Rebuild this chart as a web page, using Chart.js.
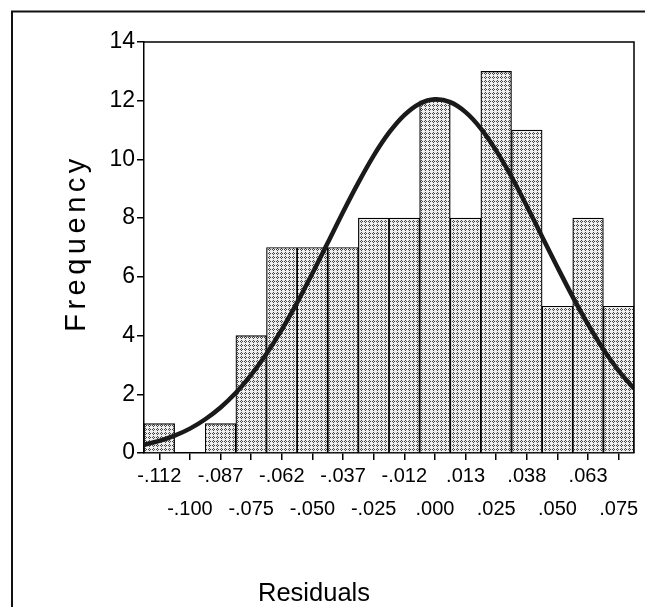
<!DOCTYPE html>
<html lang="en">
<head>
    <meta charset="UTF-8">
    <title>Residuals Histogram</title>
    <script src="https://cdn.jsdelivr.net/npm/chart.js"></script>
    <style>
        html, body { margin: 0; padding: 0; background: #fff; }
    </style>
</head>
<body>
    <canvas id="histChart" width="645" height="607"></canvas>

    <script>
        // Bin labels as printed under the axis
        const binLabels = ['-.112', '-.100', '-.087', '-.075', '-.062', '-.050', '-.037', '-.025',
                           '-.012', '.000', '.013', '.025', '.038', '.050', '.063', '.075'];
        // Counts per bin
        const frequencies = [1, 0, 1, 4, 7, 7, 7, 8, 8, 12, 8, 13, 11, 5, 8, 5];

        // Normal curve (x in bin units, 0 = left edge of first bin)
        const curveX = [0, 0.5, 1, 1.5, 2, 2.5, 3, 3.5, 4, 4.5, 5, 5.5, 6, 6.5, 7, 7.5, 8,
                        8.5, 9, 9.5, 10, 10.5, 11, 11.5, 12, 12.5, 13, 13.5, 14, 14.5, 15, 15.5, 16];
        const curveY = [0.28, 0.41, 0.59, 0.83, 1.15, 1.55, 2.05, 2.66, 3.38, 4.20, 5.12, 6.12, 7.16,
                        8.21, 9.21, 10.13, 10.91, 11.51, 11.90, 12.05, 11.95, 11.61, 11.05, 10.30, 9.41,
                        8.41, 7.37, 6.33, 5.32, 4.38, 3.53, 2.80, 2.20];

        const yMin = 0, yMax = 14, yStep = 2;

        // small dotted fill like the original bars
        function hatchPattern() {
            const c = document.createElement('canvas');
            c.width = 4; c.height = 4;
            const g = c.getContext('2d');
            g.fillStyle = '#eeeeee';
            g.fillRect(0, 0, 4, 4);
            g.fillStyle = '#444';
            [[1, 0], [0, 1], [2, 1], [1, 2]].forEach(p => g.fillRect(p[0], p[1], 1, 1));
            return g.createPattern(c, 'repeat');
        }

        const fontFamily = '"Liberation Sans", Arial, sans-serif';

        // frame, plot box and the axis titles
        const decorations = {
            id: 'decorations',
            afterDraw(chart) {
                const { ctx, chartArea: a } = chart;
                ctx.save();
                ctx.strokeStyle = '#000';
                ctx.lineWidth = 1.5;
                ctx.beginPath();
                ctx.moveTo(a.left, a.top);
                ctx.lineTo(a.right, a.top);
                ctx.lineTo(a.right, a.bottom);
                ctx.stroke();

                ctx.lineWidth = 2;
                ctx.strokeStyle = '#111';
                ctx.beginPath();
                ctx.moveTo(12, 607);
                ctx.lineTo(12, 11.5);
                ctx.lineTo(645, 11.5);
                ctx.stroke();

                ctx.fillStyle = '#000';
                ctx.textAlign = 'center';
                ctx.textBaseline = 'alphabetic';
                ctx.font = '25.5px ' + fontFamily;
                ctx.fillText('Residuals', 314, 601);

                ctx.translate(85, 245);
                ctx.rotate(-Math.PI / 2);
                ctx.font = '29px ' + fontFamily;
                ctx.letterSpacing = '4.5px';
                ctx.fillText('Frequency', 2, 0);
                ctx.restore();
            }
        };

        const ctx = document.getElementById('histChart').getContext('2d');
        new Chart(ctx, {
            type: 'bar',
            data: {
                labels: binLabels,
                datasets: [
                    {
                        type: 'line',
                        data: curveX.map((x, i) => ({ x: x, y: curveY[i] })),
                        xAxisID: 'x2',
                        yAxisID: 'y',
                        borderColor: '#1a1a1a',
                        borderWidth: 4.5,
                        pointRadius: 0,
                        tension: 0.3,
                        fill: false,
                        order: 0
                    },
                    {
                        type: 'bar',
                        data: frequencies,
                        xAxisID: 'x',
                        yAxisID: 'y',
                        backgroundColor: hatchPattern(),
                        borderColor: '#000',
                        borderWidth: 1.2,
                        grouped: false,
                        categoryPercentage: 1,
                        barPercentage: 1,
                        order: 1
                    }
                ]
            },
            options: {
                responsive: false,
                animation: false,
                layout: { padding: { left: 0, top: 42, right: 11, bottom: 0 } },
                plugins: {
                    legend: { display: false },
                    tooltip: { enabled: false }
                },
                scales: {
                    x: {
                        type: 'category',
                        offset: true,
                        grid: { offset: false, drawOnChartArea: false, drawTicks: true, tickLength: 7, color: '#000', lineWidth: 1.5 },
                        border: { display: true, color: '#000', width: 1.5 },
                        ticks: {
                            color: '#000',
                            padding: 0,
                            maxRotation: 0,
                            autoSkip: false,
                            font: { family: fontFamily, size: 20, lineHeight: 1.65 },
                            callback: (v, i) => i % 2 === 0 ? binLabels[i] : ['', binLabels[i]]
                        },
                        afterFit: s => { s.height = 154; }
                    },
                    x2: {
                        type: 'linear',
                        min: 0,
                        max: 16,
                        offset: false,
                        display: false
                    },
                    y: {
                        min: yMin,
                        max: yMax,
                        grid: { drawOnChartArea: false, drawTicks: true, tickLength: 7, color: '#000', lineWidth: 1.5 },
                        border: { display: true, color: '#000', width: 1.5 },
                        ticks: {
                            stepSize: yStep,
                            color: '#000',
                            padding: 2,
                            font: { family: fontFamily, size: 23 }
                        },
                        afterFit: s => { s.width = 144; }
                    }
                }
            },
            plugins: [decorations]
        });
    </script>
</body>
</html>
